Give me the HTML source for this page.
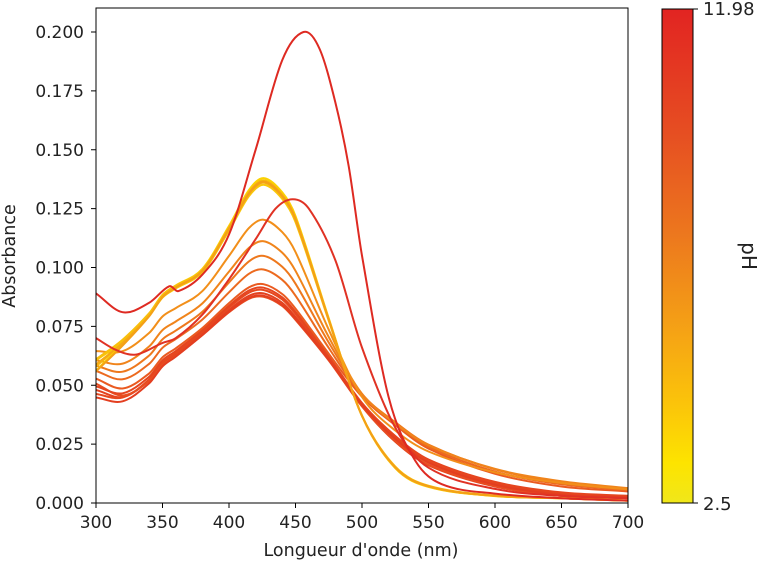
<!DOCTYPE html>
<html><head><meta charset="utf-8"><style>
body{margin:0;background:#fff;}
svg{display:block;font-family:"DejaVu Sans","Liberation Sans",sans-serif;}
</style></head><body>
<svg id="s" width="760" height="562" viewBox="0 0 760 562" xmlns="http://www.w3.org/2000/svg">
<defs>
<linearGradient id="cb" x1="0" y1="1" x2="0" y2="0">
<stop offset="0" stop-color="#f0e71a"/>
<stop offset="0.08" stop-color="#fde400"/>
<stop offset="0.2" stop-color="#fbc40a"/>
<stop offset="0.35" stop-color="#f5a215"/>
<stop offset="0.55" stop-color="#ec761e"/>
<stop offset="0.75" stop-color="#e64e22"/>
<stop offset="1" stop-color="#e22422"/>
</linearGradient>
<clipPath id="c"><rect x="96" y="8" width="532" height="495"/></clipPath>
</defs>
<g id="lines" clip-path="url(#c)" fill="none" stroke-width="2"></g>
<rect x="96" y="8" width="532" height="495" fill="none" stroke="#000" stroke-width="1"/>
<g id="ticks" stroke="#000" stroke-width="1"></g>
<g id="labels" font-size="17" fill="#222"></g>
<text x="361" y="556" font-size="17.5" text-anchor="middle" fill="#222">Longueur d'onde (nm)</text>
<text transform="translate(15,256) rotate(-90)" font-size="17.5" text-anchor="middle" fill="#222">Absorbance</text>
<rect x="662" y="9" width="31" height="494" fill="url(#cb)" stroke="#000" stroke-width="1"/>
<line x1="693" y1="9" x2="698" y2="9" stroke="#000"/>
<line x1="693" y1="503" x2="698" y2="503" stroke="#000"/>
<text x="703" y="15" font-size="18" fill="#222">11.98</text>
<text x="703" y="510" font-size="18" fill="#222">2.5</text>
<text transform="translate(742,256) rotate(90)" font-size="20" text-anchor="middle" fill="#222">pH</text>
</svg>
<script>
var X=function(l){return 96+(l-300)*532/400;},Y=function(a){return 503-a*2355;};
var yel=[[300,.058],[320,.068],[340,.080],[350,.088],[360,.092],[380,.099],[400,.117],[415,.132],[426,.137],[440,.131],[450,.121],[475,.078],[500,.037],[525,.015],[550,.007],[600,.003],[650,.002],[700,.001]];
var red=[[300,.048],[320,.045],[340,.052],[350,.059],[360,.063],[380,.072],[400,.082],[415,.088],[426,.089],[440,.085],[450,.079],[475,.061],[500,.041],[525,.026],[550,.016],[600,.007],[650,.003],[700,.002]];
var r448=[[300,.070],[315,.065],[330,.063],[350,.068],[360,.070],[380,.080],[400,.095],[420,.112],[435,.125],[448,.129],[460,.125],[480,.103],[500,.066],[525,.032],[550,.015],[600,.006],[650,.003],[700,.002]];
var r458=[[300,.089],[320,.081],[340,.085],[355,.092],[362,.090],[380,.097],[400,.114],[420,.150],[440,.188],[456,.200],[468,.193],[480,.170],[490,.143],[500,.105],[520,.045],[540,.018],[560,.008],[600,.004],[650,.002],[700,.001]];
function path(p){var n=p.length,m=[];
for(var i=0;i<n;i++){var a=p[Math.max(0,i-1)],b=p[Math.min(n-1,i+1)];m.push((b[1]-a[1])/(b[0]-a[0]));}
var s="M"+X(p[0][0]).toFixed(1)+","+Y(p[0][1]).toFixed(1);
for(var i=0;i<n-1;i++){var dx=p[i+1][0]-p[i][0];
s+=" C"+X(p[i][0]+dx/3).toFixed(1)+","+Y(p[i][1]+m[i]*dx/3).toFixed(1)+" "+X(p[i+1][0]-dx/3).toFixed(1)+","+Y(p[i+1][1]-m[i+1]*dx/3).toFixed(1)+" "+X(p[i+1][0]).toFixed(1)+","+Y(p[i+1][1]).toFixed(1);}
return s;}
function mix(t,dy0,tail){return yel.map(function(q,i){var l=q[0];var v=t*q[1]+(1-t)*red[i][1];
v+=dy0*Math.exp(-(l-300)/25);
v+=tail*(1/(1+Math.exp(-(l-505)/12)))*Math.exp(-(l-550)/150);return [l,v];});}
var g=document.getElementById("lines"),out="";
function add(p,c){out+='<path d="'+path(p)+'" stroke="'+c+'"/>';}
var rc=["#e4421f","#e6481f","#e84e20","#e5451f","#e33e20"];
[[0,0,0],[0.03,-0.002,0.002],[-0.03,0.003,0],[0.05,0.001,0.003],[-0.02,-0.003,0.001]].forEach(function(o,i){add(mix(o[0],o[1],o[2]),rc[i]);});
[[0.08,0.004,0.008,"#ea5a20"],[0.21,0.006,0.010,"#ec6a1f"],[0.33,0.007,0.012,"#ee781d"],[0.46,0.008,0.013,"#f0841b"],[0.65,0.010,0.012,"#f28f1a"]].forEach(function(o){add(mix(o[0],o[1],o[2]),o[3]);});
[[1,0,"#f7b812"],[0.96,0.003,"#f9c80a"],[1.02,-0.002,"#fbd200"],[0.98,0.001,"#f5a915"],[1.0,0.003,"#f8bf0c"],[0.99,-0.002,"#f4a017"]].forEach(function(o){add(mix(o[0],o[1],0),o[2]);});
add(r448,"#e03224");add(r458,"#de2a22");
g.innerHTML=out;
var t="",lb="";
[300,350,400,450,500,550,600,650,700].forEach(function(v){var x=X(v);t+='<line x1="'+x+'" y1="503" x2="'+x+'" y2="508"/>';lb+='<text x="'+x+'" y="528" text-anchor="middle">'+v+'</text>';});
for(var i=0;i<=8;i++){var a=i*0.025,y=Y(a);t+='<line x1="91" y1="'+y+'" x2="96" y2="'+y+'"/>';lb+='<text x="84" y="'+(y+6)+'" text-anchor="end">'+a.toFixed(3)+'</text>';}
document.getElementById("ticks").innerHTML=t;document.getElementById("labels").innerHTML=lb;
</script>
</body></html>
